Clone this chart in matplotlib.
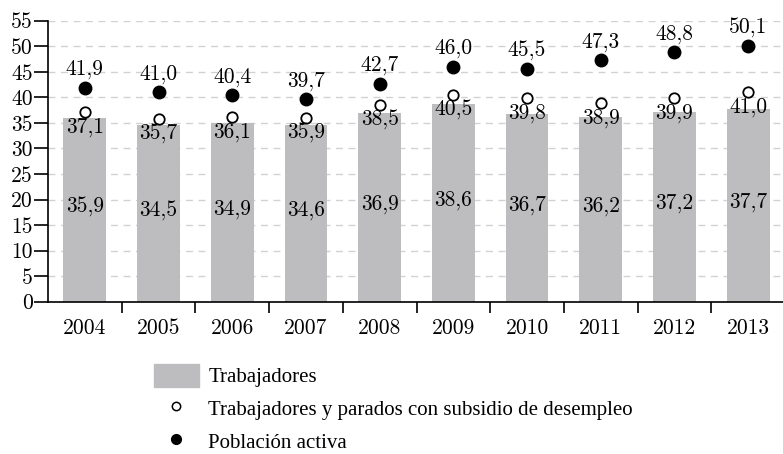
import matplotlib
matplotlib.use('Agg')
import matplotlib.pyplot as plt
from matplotlib.patches import Patch
from matplotlib.lines import Line2D
import numpy as np

years = ['2004', '2005', '2006', '2007', '2008', '2009', '2010', '2011', '2012', '2013']
trabajadores = [35.9, 34.5, 34.9, 34.6, 36.9, 38.6, 36.7, 36.2, 37.2, 37.7]
con_subsidio = [37.1, 35.7, 36.1, 35.9, 38.5, 40.5, 39.8, 38.9, 39.9, 41.0]
poblacion_activa = [41.9, 41.0, 40.4, 39.7, 42.7, 46.0, 45.5, 47.3, 48.8, 50.1]

labels_legend = ['Trabajadores',
                 'Trabajadores y parados con subsidio de desempleo',
                 'Población activa']

num_font = 'cmr10'
txt_font = 'Liberation Serif'
fs = 15.5


def fmt(v):
    return f'{v:.1f}'.replace('.', ',')


fig = plt.figure(figsize=(7.83, 4.54), dpi=100)
ax = fig.add_axes([48 / 783, 152.3 / 454, 737 / 783, 281 / 454])

x = np.arange(len(years))
ax.bar(x, trabajadores, width=0.58, color='#bdbdbf', zorder=2)
ax.plot(x, con_subsidio, 'o', ms=7.5, mfc='white', mec='black', mew=1.3, zorder=3)
ax.plot(x, poblacion_activa, 'o', ms=9, color='black', zorder=3)

for xi, b, s, p in zip(x, trabajadores, con_subsidio, poblacion_activa):
    ax.annotate(fmt(b), (xi, b / 2), xytext=(0, 3), textcoords='offset pixels',
                ha='center', va='center', fontsize=fs, family=num_font, zorder=4)
    ax.annotate(fmt(s), (xi, s), xytext=(0, -15), textcoords='offset pixels',
                ha='center', va='center', fontsize=fs, family=num_font, zorder=4)
    ax.annotate(fmt(p), (xi, p), xytext=(0, 18), textcoords='offset pixels',
                ha='center', va='center', fontsize=fs, family=num_font, zorder=4)

ax.set_xlim(-0.5, len(years) - 0.5)
ax.set_ylim(0, 55)
ax.set_yticks(np.arange(0, 56, 5))
ax.set_yticklabels([str(v) for v in range(0, 56, 5)], family=num_font, fontsize=fs)
ax.set_xticks(x)
ax.set_xticklabels(years, family=num_font, fontsize=fs)
ax.set_xticks(np.arange(0.5, len(years) - 0.5, 1), minor=True)
ax.tick_params(axis='x', which='major', length=0, pad=12)
ax.tick_params(axis='x', which='minor', length=8, width=1.2, direction='out')
ax.tick_params(axis='y', length=10, width=1.2, direction='out', pad=1)

ax.grid(axis='y', color='#d2d2d2', linestyle=(0, (5, 4)), linewidth=1, zorder=0)
for s in ['top', 'right']:
    ax.spines[s].set_visible(False)
ax.spines['left'].set_linewidth(1.2)
ax.spines['bottom'].set_linewidth(1.2)
ax.spines['bottom'].set_zorder(5)

handles = [Patch(color='#bdbdbf'),
           Line2D([], [], marker='o', ls='', ms=6, mfc='white', mec='black', mew=1.1),
           Line2D([], [], marker='o', ls='', ms=7, color='black')]
fig.legend(handles, labels_legend, loc='upper left', bbox_to_anchor=(154 / 783, 1 - 364 / 454),
           frameon=False, prop={'family': txt_font, 'size': 15},
           handlelength=2.15, handleheight=1.3, handletextpad=0.45, labelspacing=0.45,
           borderpad=0, borderaxespad=0)

fig.savefig('out.png', dpi=100)
